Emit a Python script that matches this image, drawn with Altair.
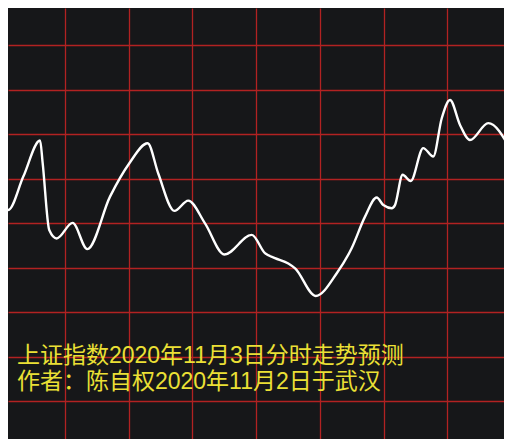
import altair as alt
import pandas as pd

# Trading minutes (0-240) and predicted index level (arbitrary grid units, 0-100)
minutes = [0.6, 1.4, 3.4, 10.5, 18.4, 19.6, 22.7, 26.2, 33.7, 40.6, 51.3, 60.4,
           69.0, 74.0, 81.6, 88.1, 96.0, 105.1, 118.0, 124.2, 128.9, 135.2, 138.4,
           148.1, 158.0, 165.0, 171.3, 176.8, 179.9, 183.9, 185.4, 189.0, 192.8,
           198.7, 203.4, 207.4, 211.3, 216.0, 220.7, 229.3, 239.5]
values = [63.5, 56.0, 53.0, 60.5, 68.6, 63.6, 48.5, 46.6, 50.1, 44.2, 56.0, 63.5,
          68.0, 61.2, 52.8, 55.1, 50.0, 43.0, 47.4, 43.3, 42.2, 41.0, 39.9,
          33.7, 38.8, 44.4, 51.5, 55.8, 54.1, 53.4, 54.1, 60.9, 59.5,
          66.9, 65.0, 73.6, 77.7, 72.1, 68.7, 72.5, 66.9]

grid_x = [30, 60, 90, 120, 150, 180, 210]
grid_y = [10, 20, 30, 40, 50, 60, 70, 80, 90]

text_lines = ["上证指数2020年11月3日分时走势预测", "作者：陈自权2020年11月2日于武汉"]
text_x = [7.5, 7.5]
text_y = [20.3, 14.3]

line_df = pd.DataFrame({"minute": minutes, "value": values})
text_df = pd.DataFrame({"label": text_lines, "minute": text_x, "value": text_y})

x_scale = alt.Scale(domain=[3.294, 236.7], nice=False, zero=False)
y_scale = alt.Scale(domain=[1.57, 98.36], nice=False, zero=False)

x_axis = alt.Axis(values=grid_x, labels=False, ticks=False, domain=False, grid=True,
                  gridColor="#b22222", gridWidth=1.3, gridOpacity=1, title=None)
y_axis = alt.Axis(values=grid_y, labels=False, ticks=False, domain=False, grid=True,
                  gridColor="#b22222", gridWidth=1.3, gridOpacity=1, title=None)

line = alt.Chart(line_df).mark_line(
    color="white", strokeWidth=2.4, interpolate="monotone", clip=True
).encode(
    x=alt.X("minute:Q", scale=x_scale, axis=x_axis),
    y=alt.Y("value:Q", scale=y_scale, axis=y_axis),
)

text = alt.Chart(text_df).mark_text(
    color="#ebe035", fontSize=23, font="Liberation Sans, Noto Sans CJK SC",
    align="left", baseline="middle"
).encode(
    x=alt.X("minute:Q", scale=x_scale),
    y=alt.Y("value:Q", scale=y_scale),
    text="label:N",
)

chart = alt.layer(line, text).properties(
    width=496, height=431, background="#161719", padding=0,
    autosize=alt.AutoSizeParams(type="none"),
).configure_view(strokeWidth=0)

chart.save("out.html", embed_options={"renderer": "svg", "actions": False})
